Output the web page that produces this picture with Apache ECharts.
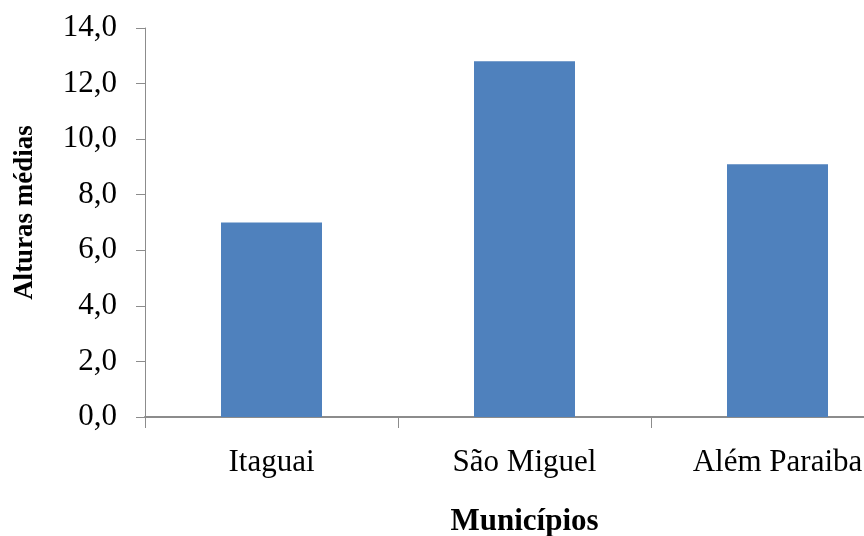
<!DOCTYPE html>
<html>
<head>
<meta charset="utf-8">
<script src="https://cdn.jsdelivr.net/npm/echarts@6/dist/echarts.min.js"></script>
<style>
  html, body { margin: 0; padding: 0; background: #fff; }
  #chart { width: 864px; height: 536px; }
</style>
</head>
<body>
<div id="chart"></div>
<script>
// Average heights per municipality
const municipios = ['Itaguai', 'São Miguel', 'Além Paraiba'];
const alturasMedias = [7.0, 12.8, 9.1];
const yTicks = { min: 0, max: 14, interval: 2 };

const serif = '"Liberation Serif", "Times New Roman", serif';
const axisGray = '#8c8c8c';

const chart = echarts.init(document.getElementById('chart'));
chart.setOption({
  backgroundColor: '#ffffff',
  animation: false,
  grid: {
    left: 145, top: 28, bottom: 119, right: -40,
    containLabel: false, outerBoundsMode: 'none'
  },
  xAxis: {
    type: 'category',
    data: municipios,
    boundaryGap: true,
    name: 'Municípios',
    nameLocation: 'middle',
    nameGap: 89,
    nameTextStyle: { fontFamily: serif, fontWeight: 'bold', fontSize: 31, color: '#000' },
    axisLine: { lineStyle: { color: axisGray, width: 2 } },
    axisTick: { show: true, length: 11, lineStyle: { color: axisGray, width: 1 } },
    axisLabel: { fontFamily: serif, fontSize: 31, color: '#000', margin: 30 }
  },
  yAxis: {
    type: 'value',
    min: yTicks.min,
    max: yTicks.max,
    interval: yTicks.interval,
    name: 'Alturas médias',
    nameLocation: 'middle',
    nameGap: 106,
    nameRotate: 90,
    nameTextStyle: {
      fontFamily: serif, fontWeight: 'bold', fontSize: 27, color: '#000',
      padding: [0, 0, 0, 20]
    },
    axisLine: { show: true, lineStyle: { color: axisGray, width: 1 } },
    axisTick: { show: true, length: 9, lineStyle: { color: axisGray, width: 1 } },
    splitLine: { show: false },
    axisLabel: {
      fontFamily: serif, fontSize: 31, color: '#000', margin: 28,
      formatter: v => v.toFixed(1).replace('.', ',')
    }
  },
  series: [{
    type: 'bar',
    data: alturasMedias,
    barWidth: 101,
    itemStyle: { color: '#4f81bd' }
  }]
});
</script>
</body>
</html>
